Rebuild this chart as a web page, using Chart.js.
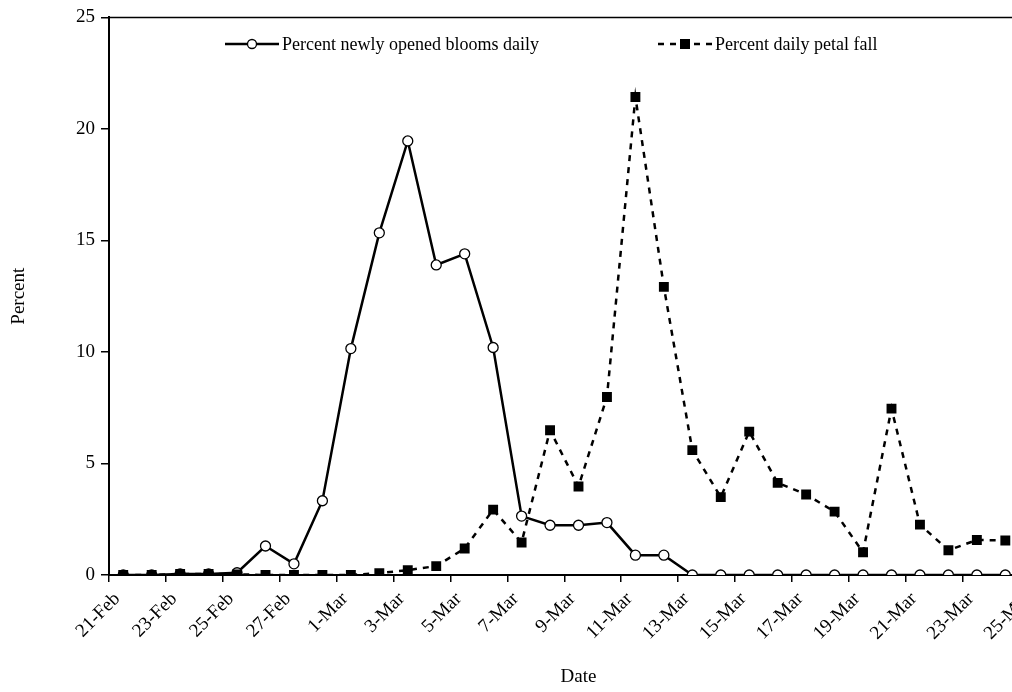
<!DOCTYPE html>
<html>
<head>
<meta charset="utf-8">
<script src="https://cdn.jsdelivr.net/npm/chart.js@4.4.1/dist/chart.umd.min.js"></script>
<style>
  html, body { margin: 0; padding: 0; background: #fff; overflow: hidden; width: 1012px; height: 692px; }
  #wrap { width: 1056px; height: 692px; }
</style>
</head>
<body>
<div id="wrap"><canvas id="lineChart" width="1056" height="692"></canvas></div>
<script>
  // Daily categories, 21-Feb to 25-Mar (last one is cut off at the right edge)
  const dates = [
    '21-Feb', '22-Feb', '23-Feb', '24-Feb', '25-Feb', '26-Feb', '27-Feb', '28-Feb',
    '1-Mar', '2-Mar', '3-Mar', '4-Mar', '5-Mar', '6-Mar', '7-Mar', '8-Mar', '9-Mar',
    '10-Mar', '11-Mar', '12-Mar', '13-Mar', '14-Mar', '15-Mar', '16-Mar', '17-Mar',
    '18-Mar', '19-Mar', '20-Mar', '21-Mar', '22-Mar', '23-Mar', '24-Mar', '25-Mar'
  ];

  // Percent newly opened blooms daily
  const bloomsDaily = [
    0, 0, 0.05, 0.05, 0.1, 1.3, 0.5, 3.33,
    10.15, 15.34, 19.46, 13.9, 14.4, 10.2, 2.64, 2.23, 2.23,
    2.35, 0.89, 0.89, 0, 0, 0, 0, 0,
    0, 0, 0, 0, 0, 0, 0
  ];

  // Percent daily petal fall
  const petalFall = [
    0, 0, 0.05, 0.05, 0.03, 0, 0, 0,
    0, 0.08, 0.22, 0.4, 1.19, 2.93, 1.46, 6.49, 3.97,
    7.98, 21.43, 12.92, 5.6, 3.49, 6.43, 4.13, 3.61,
    2.84, 1.02, 7.46, 2.26, 1.11, 1.57, 1.55
  ];

  const yTicks = [0, 5, 10, 15, 20, 25];

  const serif = 'Liberation Serif, Times New Roman, serif';
  const ctx = document.getElementById('lineChart').getContext('2d');

  // Excel-like box: top border of the plot area
  const plotBorder = {
    id: 'plotBorder',
    afterDraw(chart) {
      const { ctx, chartArea } = chart;
      ctx.save();
      ctx.strokeStyle = '#000';
      ctx.lineWidth = 1.5;
      ctx.beginPath();
      ctx.moveTo(chartArea.left, chartArea.top);
      ctx.lineTo(chartArea.right, chartArea.top);
      ctx.stroke();
      ctx.restore();
    }
  };

  // Legend sits inside the plot area, near the top
  const innerLegend = {
    id: 'innerLegend',
    afterDraw(chart) {
      const { ctx } = chart;
      const items = [{ ds: 0, x: 225 }, { ds: 1, x: 658 }];
      const y = 44;
      ctx.save();
      items.forEach(item => {
        const ds = chart.data.datasets[item.ds];
        ctx.strokeStyle = '#000';
        ctx.lineWidth = 2.5;
        ctx.setLineDash(ds.borderDash || []);
        ctx.beginPath();
        ctx.moveTo(item.x, y);
        ctx.lineTo(item.x + 54, y);
        ctx.stroke();
        ctx.setLineDash([]);
        const cx = item.x + 27;
        if (ds.pointStyle === 'rect') {
          ctx.fillStyle = '#000';
          ctx.fillRect(cx - 5, y - 5, 10, 10);
        } else {
          ctx.fillStyle = '#fff';
          ctx.lineWidth = 1.3;
          ctx.beginPath();
          ctx.arc(cx, y, 4.5, 0, Math.PI * 2);
          ctx.fill();
          ctx.stroke();
        }
        ctx.fillStyle = '#000';
        ctx.font = '18px ' + serif;
        ctx.textBaseline = 'middle';
        ctx.fillText(ds.label, item.x + 57, y + 1);
      });
      ctx.restore();
    }
  };

  const data = {
    labels: dates,
    datasets: [
      {
        label: 'Percent newly opened blooms daily',
        data: bloomsDaily,
        order: 1,
        borderColor: '#000',
        borderWidth: 2.5,
        pointStyle: 'circle',
        pointRadius: 5,
        pointBorderWidth: 1.3,
        pointBackgroundColor: '#fff',
        pointBorderColor: '#000',
        tension: 0
      },
      {
        label: 'Percent daily petal fall',
        data: petalFall,
        order: 0,
        borderColor: '#000',
        borderWidth: 2.5,
        borderDash: [6, 6],
        pointStyle: 'rect',
        pointRadius: 7,
        pointBorderWidth: 0,
        pointBackgroundColor: '#000',
        pointBorderColor: '#000',
        tension: 0
      }
    ]
  };

  const config = {
    type: 'line',
    data: data,
    options: {
      responsive: false,
      animation: false,
      devicePixelRatio: 1,
      layout: { padding: { top: 14, right: 5, left: 0, bottom: 0 } },
      plugins: {
        legend: { display: false },
        tooltip: { enabled: false }
      },
      scales: {
        x: {
          type: 'category',
          offset: true,
          border: { color: '#000', width: 2 },
          grid: {
            offset: true,
            drawOnChartArea: false,
            tickLength: 7,
            lineWidth: 1.5,
            color: (c) => (c.index % 2 === 0 ? '#000' : 'rgba(0,0,0,0)')
          },
          ticks: {
            autoSkip: false,
            maxRotation: 45,
            minRotation: 45,
            labelOffset: -6,
            padding: 6,
            color: '#000',
            font: { family: serif, size: 19 },
            callback: (v, i) => (i % 2 === 0 ? dates[i] : '')
          },
          title: {
            display: true,
            text: 'Date',
            color: '#000',
            font: { family: serif, size: 19 },
            padding: { top: 0, bottom: 4 }
          },
          afterFit: (s) => { s.height = 117; }
        },
        y: {
          min: 0,
          max: 25,
          border: { color: '#000', width: 2 },
          grid: { drawOnChartArea: false, tickLength: 8, lineWidth: 1.5, color: '#000' },
          afterBuildTicks: (s) => { s.ticks = yTicks.map(v => ({ value: v })); },
          ticks: {
            padding: 6,
            color: '#000',
            font: { family: serif, size: 19 }
          },
          title: {
            display: true,
            text: 'Percent',
            color: '#000',
            font: { family: serif, size: 19 },
            padding: { top: 8, bottom: 0 }
          },
          afterFit: (s) => { s.width = 109; }
        }
      }
    },
    plugins: [plotBorder, innerLegend]
  };

  const myChart = new Chart(ctx, config);
</script>
</body>
</html>
